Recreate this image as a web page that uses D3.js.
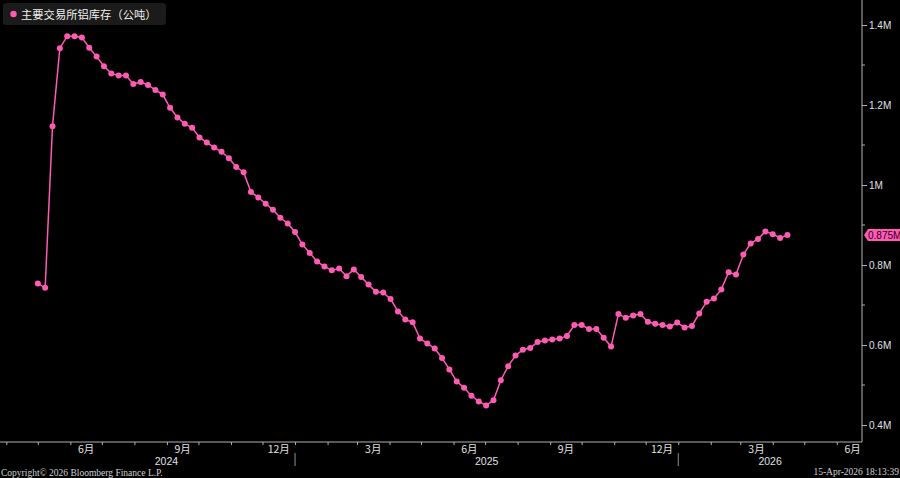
<!DOCTYPE html>
<html>
<head>
<meta charset="utf-8">
<script src="https://cdn.jsdelivr.net/npm/d3@7"></script>
<style>
  html, body { margin: 0; padding: 0; background: #000; }
  svg { display: block; }
</style>
</head>
<body>
<svg width="900" height="478"></svg>
<script>
// 周度数据 (百万公吨), 2024-05-01 起每周一个点
const seriesName = "主要交易所铝库存（公吨）";
const firstDate = new Date(2024, 4, 1);
const lastDate = new Date(2026, 3, 15);
const stock = [
  0.754, 0.743, 1.147, 1.342, 1.372, 1.372, 1.369, 1.343, 1.321, 1.297,
  1.279, 1.274, 1.274, 1.2525, 1.2575, 1.25, 1.2375, 1.226, 1.193, 1.169,
  1.153, 1.143, 1.119, 1.106, 1.094, 1.083, 1.067, 1.045, 1.032, 0.9825,
  0.969, 0.953, 0.938, 0.918, 0.904, 0.8825, 0.851, 0.83, 0.809, 0.796,
  0.787, 0.791, 0.772, 0.789, 0.77, 0.751, 0.733, 0.731, 0.715, 0.684,
  0.664, 0.657, 0.616, 0.604, 0.591, 0.5675, 0.539, 0.509, 0.493, 0.473,
  0.459, 0.449, 0.462, 0.512, 0.547, 0.574, 0.588, 0.5925, 0.6075, 0.611,
  0.614, 0.616, 0.6225, 0.65, 0.65, 0.64, 0.64, 0.618, 0.596, 0.6775,
  0.668, 0.674, 0.6775, 0.658, 0.653, 0.65, 0.646, 0.656, 0.644, 0.6475,
  0.679, 0.708, 0.716, 0.739, 0.782, 0.776, 0.826, 0.854, 0.865, 0.884,
  0.877, 0.8675, 0.875
];
const yTicks = [0.4, 0.6, 0.8, 1.0, 1.2, 1.4];
const yMinorTicks = [0.5, 0.7, 0.9, 1.1, 1.3];
const labelMonths = [3, 6, 9, 12];   // 标注的月份
const years = [2024, 2025, 2026];

const pink = "#ff5ab4";
const plotRight = 862;
const axisY = 442;

const dates = d3.timeDay.range(firstDate, d3.timeDay.offset(lastDate, 1), 7);
const data = dates.map((d, i) => ({ date: d, value: stock[i] }));

const x = d3.scaleTime()
  .domain([new Date(2024, 2, 26), new Date(2026, 5, 25)])
  .range([0, plotRight]);
const y = d3.scaleLinear()
  .domain([0.4, 1.4])
  .range([425, 25]);

const svg = d3.select("svg");

// x轴
const months = d3.timeMonth.range(x.domain()[0], x.domain()[1]);
const gx = svg.append("g")
  .attr("transform", `translate(0, ${axisY})`)
  .call(d3.axisBottom(x).tickValues(months).tickSize(3).tickFormat(""));
gx.select(".domain").attr("stroke", "#b0b0b0").attr("d", `M0,0H${plotRight}`);
gx.selectAll("line").attr("stroke", "#b0b0b0");

// 月份标签 (月中)
months.filter(m => labelMonths.includes(m.getMonth() + 1)).forEach(m => {
  const mid = new Date((+m + +d3.timeMonth.offset(m, 1)) / 2);
  svg.append("text")
    .attr("x", x(mid))
    .attr("y", axisY + 11)
    .attr("text-anchor", "middle")
    .attr("fill", "#e0e0e0")
    .style("font", "10.5px 'Noto Sans CJK SC'")
    .text((m.getMonth() + 1) + "月");
});

// 年份标签与分隔线
years.forEach(yr => {
  let a = new Date(yr, 0, 1), b = new Date(yr + 1, 0, 1);
  if (a < x.domain()[0]) a = firstDate;
  if (b > x.domain()[1]) b = x.domain()[1];
  svg.append("text")
    .attr("x", (x(a) + x(b)) / 2)
    .attr("y", axisY + 23)
    .attr("text-anchor", "middle")
    .attr("fill", "#e0e0e0")
    .style("font", "10.5px 'Liberation Sans'")
    .text(yr);
  if (yr > 2024) {
    svg.append("line")
      .attr("x1", x(new Date(yr, 0, 1))).attr("x2", x(new Date(yr, 0, 1)))
      .attr("y1", axisY + 11).attr("y2", axisY + 24)
      .attr("stroke", "#909090");
  }
});

// y轴 (右侧)
const gy = svg.append("g")
  .attr("transform", `translate(${plotRight}, 0)`)
  .call(d3.axisRight(y).tickValues(yTicks).tickSize(5).tickPadding(2)
    .tickFormat(d => d3.format("~g")(d) + "M"));
gy.select(".domain").attr("stroke", "#b0b0b0").attr("d", `M0,0V${axisY}`);
gy.selectAll("line").attr("stroke", "#b0b0b0");
gy.selectAll("text").attr("fill", "#e0e0e0").style("font", "10px 'Liberation Sans'");

svg.append("g").selectAll("line")
  .data(yMinorTicks)
  .join("line")
  .attr("x1", plotRight).attr("x2", plotRight + 3)
  .attr("y1", d => y(d)).attr("y2", d => y(d))
  .attr("stroke", "#b0b0b0");

// 折线与点
const line = d3.line().x(d => x(d.date)).y(d => y(d.value));
svg.append("path")
  .datum(data)
  .attr("fill", "none")
  .attr("stroke", pink)
  .attr("stroke-width", 1.5)
  .attr("d", line);
svg.append("g").selectAll("circle")
  .data(data)
  .join("circle")
  .attr("cx", d => x(d.date))
  .attr("cy", d => y(d.value))
  .attr("r", 3)
  .attr("fill", pink);

// 最新值标签
const last = data[data.length - 1];
const ly = y(last.value);
svg.append("path")
  .attr("d", `M${plotRight + 2},${ly} L${plotRight + 6},${ly - 6} H900 V${ly + 6} H${plotRight + 6} Z`)
  .attr("fill", pink);
svg.append("text")
  .attr("x", plotRight + 6)
  .attr("y", ly + 3.5)
  .attr("fill", "#2a0020")
  .style("font", "10px 'Liberation Sans'")
  .text(d3.format(".3f")(last.value) + "M");

// 图例
svg.append("rect")
  .attr("x", 3).attr("y", 3).attr("width", 163).attr("height", 22)
  .attr("rx", 3)
  .attr("fill", "#1b1b1b");
svg.append("circle").attr("cx", 13.5).attr("cy", 14).attr("r", 3.2).attr("fill", pink);
svg.append("text")
  .attr("x", 21).attr("y", 18.5)
  .attr("fill", "#f0f0f0")
  .style("font", "11.3px 'Noto Sans CJK SC'")
  .text(seriesName);

// 页脚
svg.append("text")
  .attr("x", 1).attr("y", 476)
  .attr("fill", "#d0d0d0")
  .style("font", "9.5px 'Liberation Serif'")
  .text("Copyright© 2026 Bloomberg Finance L.P.");
svg.append("text")
  .attr("x", 899).attr("y", 475)
  .attr("text-anchor", "end")
  .attr("fill", "#d0d0d0")
  .style("font", "9.5px 'Liberation Serif'")
  .text("15-Apr-2026 18:13:39");
</script>
</body>
</html>
